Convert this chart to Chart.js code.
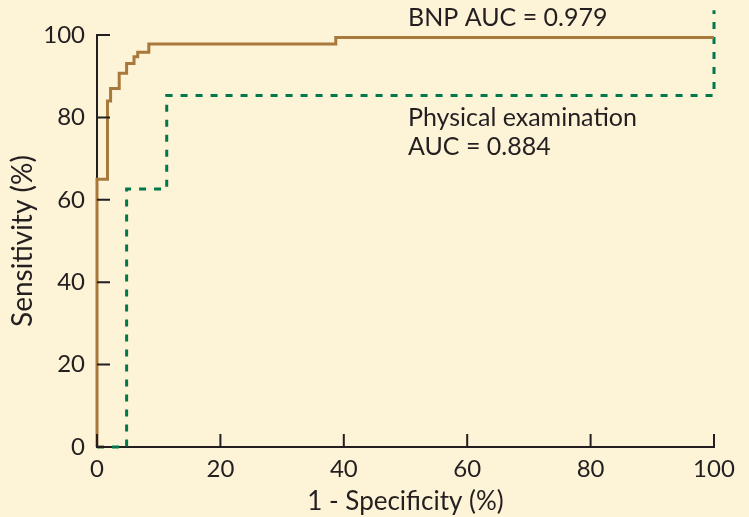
<!DOCTYPE html>
<html>
<head>
<meta charset="utf-8">
<script src="https://cdn.jsdelivr.net/npm/chart.js@4/dist/chart.umd.min.js"></script>
<style>
  html, body { margin: 0; padding: 0; background: #fdf3d7; }
  #wrap { width: 749px; height: 517px; }
</style>
</head>
<body>
<div id="wrap"><canvas id="roc"></canvas></div>
<script>
// ROC curves, values in %
const bnpFpr = [0, 0, 1.7, 2.2, 3.6, 4.8, 6.0, 6.6, 8.4, 38.7, 100];
const bnpTpr = [0, 65, 84, 87, 90.7, 93.1, 94.7, 95.8, 97.8, 99.4, 99.4];
const examFpr = [0, 4.8, 11.3, 100, 100];
const examTpr = [0, 62.6, 85.3, 85.3, 106];

const tickValues = [0, 20, 40, 60, 80, 100];

// text notes: [text, x value, y value]
const notes = [
  ['BNP AUC = 0.979', 50.4, 104.2],
  ['Physical examination', 50.4, 79.8],
  ['AUC = 0.884', 50.4, 72.8]
];

const fontName = 'Lato, "Open Sans", sans-serif';
const inkColor = '#231f20';

function toPoints(xs, ys) {
  return xs.map((x, i) => ({ x: x, y: ys[i] }));
}

// ticks pointing into the plot + text notes
const extrasPlugin = {
  id: 'extras',
  afterDraw(chart) {
    const ctx = chart.ctx;
    const xs = chart.scales.x, ys = chart.scales.y;
    const len = 13;
    ctx.save();
    ctx.strokeStyle = inkColor;
    ctx.lineWidth = 2;
    ctx.beginPath();
    tickValues.forEach(v => {
      const px = xs.getPixelForValue(v);
      ctx.moveTo(px, xs.top);
      ctx.lineTo(px, xs.top - len);
      const py = ys.getPixelForValue(v);
      ctx.moveTo(ys.right, py);
      ctx.lineTo(ys.right + len, py);
    });
    ctx.stroke();

    ctx.fillStyle = inkColor;
    ctx.font = '25px ' + fontName;
    ctx.textAlign = 'left';
    ctx.textBaseline = 'middle';
    notes.forEach(n => {
      ctx.fillText(n[0], xs.getPixelForValue(n[1]), ys.getPixelForValue(n[2]));
    });
    ctx.restore();
  }
};

const bgPlugin = {
  id: 'bg',
  beforeDraw(chart) {
    const ctx = chart.ctx;
    ctx.save();
    ctx.fillStyle = '#fdf3d7';
    ctx.fillRect(0, 0, chart.width, chart.height);
    ctx.restore();
  }
};

const config = {
  type: 'line',
  data: {
    datasets: [{
      label: 'BNP',
      data: toPoints(bnpFpr, bnpTpr),
      borderColor: '#a8793b',
      borderWidth: 3,
      stepped: 'before',
      pointRadius: 0,
      fill: false,
      clip: false
    }, {
      label: 'Physical examination',
      data: toPoints(examFpr, examTpr),
      borderColor: '#00784b',
      borderWidth: 3,
      borderDash: [7, 8],
      stepped: 'before',
      pointRadius: 0,
      fill: false,
      clip: false
    }]
  },
  options: {
    responsive: true,
    maintainAspectRatio: false,
    animation: false,
    layout: { padding: { top: 35, right: 35, left: 0, bottom: 0 } },
    plugins: {
      legend: { display: false },
      tooltip: { enabled: false }
    },
    scales: {
      x: {
        type: 'linear',
        min: 0,
        max: 100,
        afterBuildTicks: s => { s.ticks = tickValues.map(v => ({ value: v })); },
        afterFit: s => { s.height = 70; },
        grid: { drawOnChartArea: false, drawTicks: false },
        border: { display: true, color: inkColor, width: 2 },
        ticks: {
          color: inkColor,
          padding: 8,
          maxRotation: 0,
          font: { family: fontName, size: 24 }
        },
        title: {
          display: true,
          text: '1 - Specificity (%)',
          color: inkColor,
          padding: { top: 0, bottom: 0 },
          font: { family: fontName, size: 26 }
        }
      },
      y: {
        type: 'linear',
        min: 0,
        max: 100,
        afterBuildTicks: s => { s.ticks = tickValues.map(v => ({ value: v })); },
        afterFit: s => { s.width = 97; },
        grid: { drawOnChartArea: false, drawTicks: false },
        border: { display: true, color: inkColor, width: 2 },
        ticks: {
          color: inkColor,
          padding: 12,
          font: { family: fontName, size: 24 }
        },
        title: {
          display: true,
          text: 'Sensitivity (%)',
          color: inkColor,
          padding: { top: 6, bottom: 0 },
          font: { family: fontName, size: 28 }
        }
      }
    }
  },
  plugins: [bgPlugin, extrasPlugin]
};

new Chart(document.getElementById('roc'), config);
</script>
</body>
</html>
